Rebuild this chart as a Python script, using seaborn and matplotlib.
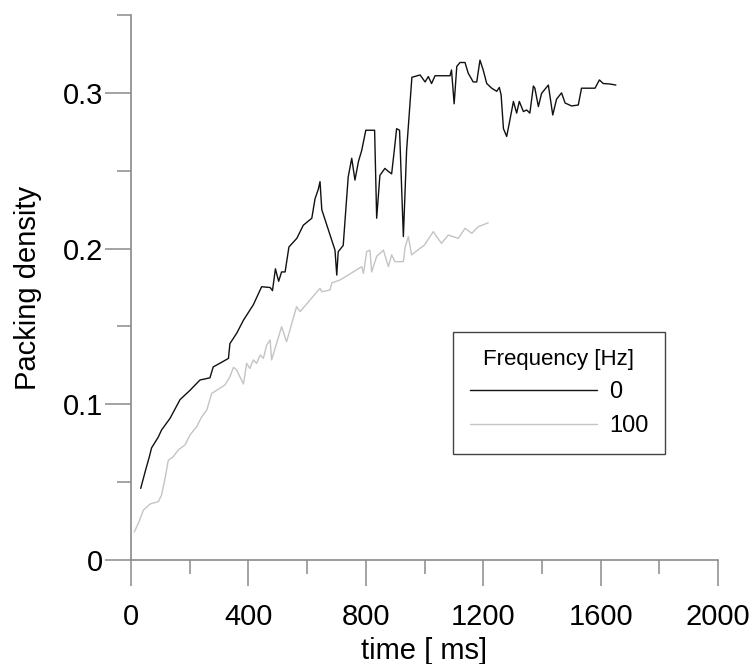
import matplotlib
matplotlib.use("Agg")
import matplotlib.pyplot as plt
from matplotlib.ticker import MultipleLocator, FixedLocator, FuncFormatter
import seaborn as sns
import pandas as pd

# 0 Hz run (black)
time_0 = [33, 50, 62, 70, 93, 104, 133, 167, 201, 235, 269, 280, 309, 332, 337,
          360, 383, 417, 445, 474, 482, 492, 503, 513, 525, 538, 565, 587, 616,
          627, 638, 644, 650, 695, 701, 706, 723, 740, 752, 763, 775, 786, 800,
          830, 837, 848, 865, 877, 888, 897, 905, 915, 928, 939, 957, 985, 1002,
          1013, 1024, 1036, 1087, 1092, 1101, 1110, 1121, 1138, 1149, 1166, 1178,
          1189, 1200, 1212, 1229, 1246, 1255, 1261, 1269, 1280, 1291, 1303, 1314,
          1323, 1337, 1348, 1359, 1371, 1376, 1388, 1399, 1422, 1437, 1450, 1467,
          1479, 1501, 1524, 1535, 1581, 1596, 1609, 1632, 1652]
density_0 = [0.046, 0.058, 0.066, 0.072, 0.079, 0.0835, 0.091, 0.103, 0.109, 0.1156,
             0.117, 0.124, 0.127, 0.1295, 0.139, 0.1456, 0.154, 0.164, 0.1755, 0.175,
             0.173, 0.187, 0.179, 0.185, 0.185, 0.201, 0.2066, 0.215, 0.2195, 0.232,
             0.238, 0.243, 0.225, 0.199, 0.183, 0.198, 0.202, 0.246, 0.258, 0.244,
             0.256, 0.263, 0.276, 0.276, 0.2195, 0.247, 0.2515, 0.2495, 0.248, 0.263,
             0.277, 0.276, 0.2077, 0.263, 0.31, 0.3115, 0.307, 0.3105, 0.306, 0.311,
             0.311, 0.3147, 0.293, 0.317, 0.3195, 0.3195, 0.3126, 0.307, 0.307, 0.321,
             0.3147, 0.306, 0.303, 0.301, 0.3035, 0.2987, 0.277, 0.272, 0.2826, 0.2945,
             0.287, 0.2945, 0.288, 0.289, 0.287, 0.3044, 0.303, 0.2912, 0.2997, 0.305,
             0.2858, 0.296, 0.300, 0.2935, 0.2916, 0.2922, 0.303, 0.303, 0.3083, 0.306,
             0.3057, 0.305]

# 100 Hz run (light grey)
time_100 = [11, 25, 42, 65, 93, 104, 116, 127, 144, 161, 184, 201, 224, 241, 258,
            275, 292, 320, 337, 349, 360, 383, 394, 405, 417, 428, 440, 451, 462,
            474, 479, 513, 530, 564, 576, 644, 650, 678, 684, 712, 757, 786, 792,
            803, 814, 820, 837, 860, 877, 888, 899, 928, 934, 945, 956, 985, 1000,
            1030, 1041, 1058, 1081, 1115, 1138, 1161, 1183, 1217]
density_100 = [0.018, 0.0236, 0.032, 0.036, 0.0375, 0.0417, 0.0525, 0.064, 0.0664,
               0.0707, 0.0739, 0.0803, 0.0857, 0.092, 0.0963, 0.107, 0.109, 0.1124,
               0.1177, 0.1238, 0.122, 0.113, 0.1263, 0.123, 0.1285, 0.1263, 0.1317,
               0.1295, 0.138, 0.1413, 0.1285, 0.1498, 0.1402, 0.1627, 0.1595, 0.1745,
               0.1723, 0.1734, 0.178, 0.1798, 0.185, 0.1884, 0.1841, 0.198, 0.199,
               0.185, 0.195, 0.199, 0.1884, 0.196, 0.1916, 0.1916, 0.201, 0.2077,
               0.196, 0.2002, 0.2023, 0.2109, 0.2077, 0.2034, 0.2087, 0.2066, 0.213,
               0.2098, 0.214, 0.2166]

freq_levels = ["0", "100"]
line_colors = {"0": "#111111", "100": "#c4c4c4"}

df = pd.concat([
    pd.DataFrame({"time": time_0, "density": density_0, "freq": "0"}),
    pd.DataFrame({"time": time_100, "density": density_100, "freq": "100"}),
])

sns.set_style("ticks")
plt.rcParams["font.family"] = ["Liberation Sans", "DejaVu Sans"]
plt.rcParams["text.color"] = "black"
plt.rcParams["axes.labelcolor"] = "black"

fig = plt.figure(figsize=(7.53, 6.64), dpi=100)
ax = fig.add_axes([0.174, 0.1566, 0.7795, 0.8208])

sns.lineplot(data=df, x="time", y="density", hue="freq", hue_order=freq_levels,
             palette=line_colors, estimator=None, sort=False, linewidth=1.0, ax=ax)

ax.set_xlim(0, 2000)
ax.set_ylim(0, 0.35)
ax.xaxis.set_major_locator(MultipleLocator(400))
ax.xaxis.set_minor_locator(FixedLocator([200, 600, 1000, 1400, 1800]))
ax.yaxis.set_major_locator(FixedLocator([0, 0.1, 0.2, 0.3]))
ax.yaxis.set_minor_locator(FixedLocator([0.05, 0.15, 0.25, 0.35]))
ax.yaxis.set_major_formatter(FuncFormatter(lambda v, p: f"{v:g}"))

sns.despine(ax=ax)
for side in ["left", "bottom"]:
    ax.spines[side].set_color("#8a8a8a")
    ax.spines[side].set_linewidth(1.2)

ax.tick_params(which="both", bottom=True, left=True, top=False, right=False)
ax.tick_params(which="major", direction="out", length=19, width=1.1,
               color="#8a8a8a", labelsize=21, labelcolor="black")
ax.tick_params(which="minor", direction="out", length=10, width=1.1, color="#8a8a8a")
ax.tick_params(axis="y", which="major", pad=1)
ax.tick_params(axis="x", which="major", pad=12)

ax.set_xlabel("time [ ms]", fontsize=21, labelpad=0)
ax.set_ylabel("Packing density", fontsize=21)
ax.xaxis.set_label_coords(0.5, -0.1405)
ax.yaxis.set_label_coords(-0.152, 0.5)

handles, labels = ax.get_legend_handles_labels()
leg = ax.legend(handles, labels, title="Frequency [Hz]", loc="upper left",
                bbox_to_anchor=(0.5486, 0.4183), borderaxespad=0, fontsize=17,
                title_fontsize=16, handlelength=5.4, handletextpad=0.5,
                labelspacing=0.5, borderpad=0.7, frameon=True, fancybox=False)
leg.get_frame().set_edgecolor("#444444")
leg.get_frame().set_linewidth(1.0)
leg.get_frame().set_alpha(1)
leg.get_title().set_color("black")

fig.savefig("out.png", dpi=100)
